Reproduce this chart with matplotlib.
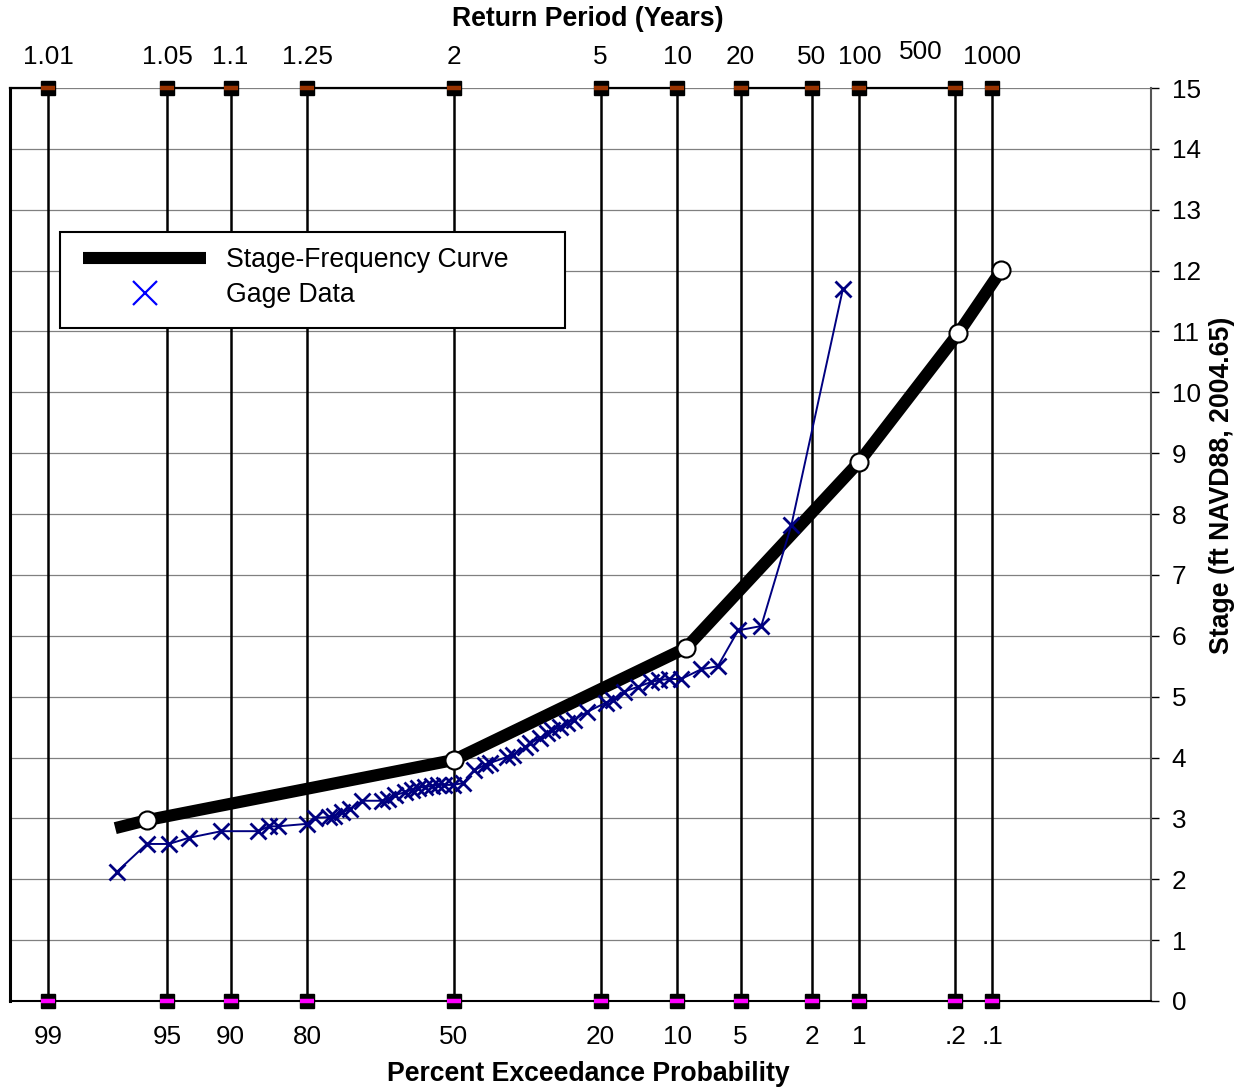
import matplotlib
matplotlib.use('Agg')
import matplotlib.pyplot as plt
import numpy as np
from matplotlib.lines import Line2D
from matplotlib.patches import Rectangle
from statistics import NormalDist

plt.rcParams['font.family'] = ['Liberation Sans', 'DejaVu Sans']

# probability grid (percent exceedance) and matching return periods
prob_ticks = [99, 95, 90, 80, 50, 20, 10, 5, 2, 1, 0.2, 0.1]
prob_labels = ['99', '95', '90', '80', '50', '20', '10', '5', '2', '1', '.2', '.1']
return_labels = ['1.01', '1.05', '1.1', '1.25', '2', '5', '10', '20', '50', '100', '', '1000']

# adopted stage-frequency curve
curve_prob = [97.4, 96.1, 50, 9.15, 1.0, 0.19, 0.084]
curve_stage = [2.84, 2.97, 3.96, 5.80, 8.86, 10.97, 12.01]

# ranked annual peaks at the gage
gage_prob = [97.35, 96.1, 94.9, 93.6, 90.9, 86.9, 85.6, 84.3, 80.1, 78.8,
             76.3, 75.4, 73.9, 72.5, 70.0, 65.9, 64.8, 63.3, 61.1, 59.6,
             58.2, 56.6, 55.0, 53.7, 52.3, 50.2, 47.9, 45.4, 42.9, 41.8,
             38.0, 36.7, 34.1, 33.1, 31.0, 29.6, 28.6, 27.1, 25.8, 24.6,
             22.2, 19.2, 18.1, 16.5, 14.6, 12.9, 12.0, 10.9, 9.6, 7.8,
             6.5, 5.14, 3.89, 2.64, 1.28]
gage_stage = [2.12, 2.58, 2.58, 2.68, 2.79, 2.79, 2.87, 2.87, 2.91, 3.01,
              3.02, 3.04, 3.10, 3.15, 3.29, 3.29, 3.32, 3.38, 3.43, 3.47,
              3.50, 3.52, 3.53, 3.55, 3.55, 3.55, 3.58, 3.79, 3.88, 3.91,
              4.01, 4.04, 4.17, 4.24, 4.32, 4.40, 4.45, 4.50, 4.57, 4.62,
              4.75, 4.90, 4.95, 5.08, 5.16, 5.24, 5.27, 5.29, 5.29, 5.45,
              5.50, 6.09, 6.16, 7.82, 11.70]


def prob_to_x(p):
    """Percent exceedance -> standard normal deviate (probability paper)."""
    nd = NormalDist()
    return np.array([nd.inv_cdf(1 - v / 100.0) for v in p])


FS = 18.8
W, H = 1247, 1089
fig = plt.figure(figsize=(W / 100, H / 100), dpi=100)
ax = fig.add_axes([10 / W, 1 - 1001 / H, 1141 / W, 913 / H])
x_lo, x_hi = -2.547, 4.0
ax.set_xlim(x_lo, x_hi)
ax.set_ylim(0, 15)

xt = prob_to_x(prob_ticks)

for y in range(1, 16):
    ax.axhline(y, color='#808080', lw=0.9, zorder=1)
for x in xt:
    ax.axvline(x, color='black', lw=1.8, zorder=2)

# top border drawn in alternating pieces between the grid lines
edges = [x_lo] + list(xt)
for i in range(0, len(edges) - 1, 2):
    ax.plot([edges[i], edges[i + 1]], [15, 15], color='black', lw=1.6,
            zorder=3, clip_on=False)

ax.plot(xt, [15] * len(xt), 's', ms=9.5, mfc='black', mec='black', mew=1,
        zorder=9, clip_on=False)
ax.plot(xt, [15] * len(xt), '_', ms=10, mew=3.2, color='#993300',
        zorder=10, clip_on=False)
ax.plot(xt, [0] * len(xt), 's', ms=9.5, mfc='black', mec='black', mew=1,
        zorder=9, clip_on=False)
ax.plot(xt, [0] * len(xt), '_', ms=10, mew=3.2, color='#FF00FF',
        zorder=10, clip_on=False)

cx = prob_to_x(curve_prob)
gx = prob_to_x(gage_prob)
ax.plot(cx, curve_stage, color='black', lw=8.7, solid_capstyle='butt', zorder=5)
ax.plot(cx[1:], curve_stage[1:], 'o', ms=13, mfc='white', mec='black', mew=1.5, zorder=8)
ax.plot(gx, gage_stage, color='#000080', lw=1.4, marker='x', ms=11, mew=2, zorder=6)

ax.spines['top'].set_visible(False)
ax.spines['left'].set_linewidth(2.2)
ax.spines['bottom'].set_linewidth(1.5)
ax.spines['right'].set_color('#555555')
ax.spines['right'].set_linewidth(1.5)

ax.set_xticks(xt, labels=prob_labels)
ax.tick_params(axis='x', length=0, pad=17, labelsize=FS)
ax.yaxis.tick_right()
ax.set_yticks(range(16))
ax.tick_params(axis='y', length=6, width=1, pad=9, labelsize=FS)

top = ax.secondary_xaxis('top')
top.set_xticks(xt, labels=return_labels)
top.tick_params(length=0, pad=14, labelsize=FS)
top.spines['top'].set_visible(False)
ax.annotate('500', xy=(xt[10], 15), xytext=(-35 * 0.72, 36 * 0.72),
            textcoords='offset points', ha='center', va='center', fontsize=FS,
            annotation_clip=False)

fig.text(588 / W, 1 - 19 / H, 'Return Period (Years)', ha='center', va='center',
         fontsize=19.2, fontweight='bold')
fig.text(588 / W, 1 - 1074 / H, 'Percent Exceedance Probability', ha='center',
         va='center', fontsize=19.2, fontweight='bold')
fig.text(1222 / W, 1 - 485 / H, 'Stage (ft NAVD88, 2004.65)', rotation=90,
         ha='center', va='center', fontsize=19.2, fontweight='bold')

# legend with a fixed box
fig.patches.append(Rectangle((60 / W, 1 - 328 / H), 505 / W, 96 / H,
                             transform=fig.transFigure, fill=True, facecolor='white',
                             edgecolor='black', lw=1.5, zorder=20))
handles = [Line2D([], [], color='black', lw=8.7, solid_capstyle='butt'),
           Line2D([], [], color='#0000FF', ls='none', marker='x', ms=17, mew=1.6)]
leg = fig.legend(handles, ['Stage-Frequency Curve', 'Gage Data'], loc='upper left',
                 bbox_to_anchor=(62 / W, 1 - 226 / H), frameon=False, fontsize=19.2,
                 handlelength=4.6, handletextpad=0.75, labelspacing=0.33,
                 borderpad=0.3)
leg.set_zorder(21)

fig.savefig('out.png', dpi=100)
